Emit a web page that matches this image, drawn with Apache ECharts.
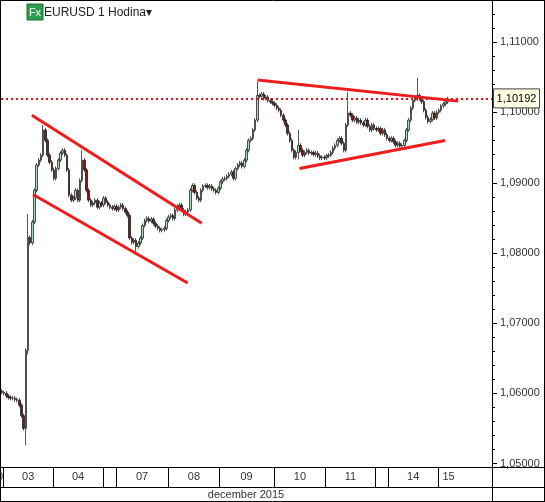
<!DOCTYPE html>
<html><head><meta charset="utf-8">
<script src="https://cdn.jsdelivr.net/npm/echarts@6/dist/echarts.min.js"></script>
<style>html,body{margin:0;padding:0;background:#fff}#c{width:545px;height:502px}</style>
</head><body><div id="c"></div>
<script>
// hourly closes, EURUSD 2-15 Dec 2015
const closes = [1.0601,1.0600,1.0596,1.0594,1.0593,1.0593,1.0591,1.0590,1.0583,1.0568,
1.0550,1.0661,1.0822,1.0814,1.0844,1.0889,1.0925,1.0932,1.0939,1.0975,
1.0960,1.0939,1.0929,1.0918,1.0906,1.0920,1.0932,1.0942,1.0946,1.0939,
1.0918,1.0882,1.0875,1.0878,1.0889,1.0875,1.0903,1.0932,1.0918,1.0889,
1.0875,1.0868,1.0871,1.0875,1.0865,1.0871,1.0868,1.0878,1.0872,1.0868,
1.0865,1.0863,1.0866,1.0861,1.0865,1.0868,1.0863,1.0858,1.0853,1.0821,
1.0815,1.0818,1.0809,1.0814,1.0821,1.0839,1.0846,1.0849,1.0845,1.0848,
1.0842,1.0838,1.0835,1.0832,1.0833,1.0835,1.0846,1.0851,1.0853,1.0849,
1.0861,1.0866,1.0868,1.0861,1.0855,1.0858,1.0861,1.0889,1.0896,1.0886,
1.0878,1.0875,1.0889,1.0895,1.0896,1.0893,1.0895,1.0891,1.0889,1.0886,
1.0892,1.0901,1.0905,1.0906,1.0909,1.0912,1.0915,1.0906,1.0920,1.0925,
1.0928,1.0923,1.0932,1.0946,1.0960,1.0963,1.0975,1.0989,1.1024,1.1023,
1.1026,1.1020,1.1022,1.1017,1.1015,1.1013,1.1010,1.1006,1.1003,1.0996,
1.0989,1.0982,1.0970,1.0960,1.0946,1.0936,1.0943,1.0953,1.0946,1.0939,
1.0943,1.0946,1.0942,1.0943,1.0940,1.0942,1.0938,1.0935,1.0936,1.0935,
1.0938,1.0939,1.0943,1.0949,1.0953,1.0960,1.0963,1.0956,1.0946,1.0982,
1.0999,1.0996,1.0989,1.0992,1.0986,1.0989,1.0985,1.0982,1.0989,1.0980,
1.0975,1.0982,1.0977,1.0975,1.0977,1.0970,1.0975,1.0968,1.0963,1.0960,
1.0963,1.0958,1.0953,1.0956,1.0952,1.0953,1.0960,1.0975,1.0989,1.1006,
1.1017,1.1022,1.1024,1.1020,1.1015,1.1003,1.0993,1.0987,1.0990,1.0999,
1.0992,1.1000,1.1003,1.1009,1.1012,1.1015,1.10192];
const firstOpen = 1.0603;
// notable wick extremes [index, high, low]
const spikes = [[11,1.0664,1.0526],[12,1.0855,1.0655],[19,1.0982,1.0940],[37,1.0946,1.0900],
[62,1.0821,1.0801],[118,1.1044,1.0987],[137,1.0975,1.0933],[160,1.1029,1.0980],[192,1.1049,1.1016],[186,1.0962,1.0950]];
const wick = 0.0003;
const slotCount = 227;
const lastPrice = 1.10192;
const yTicks = [1.05,1.06,1.07,1.08,1.09,1.10,1.11];
const yMinorTicks = [1.052,1.054,1.056,1.058,1.062,1.064,1.066,1.068,1.072,1.074,1.076,1.078,1.082,1.084,1.086,1.088,1.092,1.094,1.096,1.098,1.102,1.104,1.106,1.108,1.112,1.114];
const dayBounds = [1,24,47,53,77,101,126,150,173,179,202];
const dayLabels = ['03','04','','07','08','09','10','11','','14','15'];
const monthLabel = 'december 2015';
// trend lines in [index, price]
const trendLines = [
 [[13.8,1.0996],[92.3,1.0842]],
 [[14.3,1.0883],[85.8,1.0757]],
 [[118.1,1.1046],[210.9,1.1016]],
 [[137.5,1.0920],[204.8,1.0960]]
];

const cats = [];
for (let i=0;i<slotCount;i++) cats.push(String(i));
const ohlc = closes.map((c,i)=>{
  const o = i===0 ? firstOpen : closes[i-1];
  let h = Math.max(o,c)+wick, l = Math.min(o,c)-wick;
  const s = spikes.find(s=>s[0]===i);
  if (s){h=Math.max(h,s[1]); l=Math.min(l,s[2]);}
  return [o,c,l,h];
});
const fmt = v=>v.toFixed(5).replace('.',',');

const chart = echarts.init(document.getElementById('c'));
const font = 'Liberation Sans, Arial, sans-serif';
chart.setOption({
  animation:false,
  grid:{left:1,top:0,right:53,bottom:35,show:false},
  xAxis:[
    {type:'category',data:cats,boundaryGap:true,axisLine:{show:false},axisTick:{show:false},axisLabel:{show:false},splitLine:{show:false}},
    {type:'value',min:-0.5,max:slotCount-0.5,show:false}
  ],
  yAxis:{type:'value',position:'right',min:1.0495,max:1.116,
    axisLine:{show:false},
    axisTick:{show:false},
    axisLabel:{showMinLabel:false,showMaxLabel:false,margin:8,hideOverlap:false,color:'#333',fontFamily:font,fontSize:11,formatter:fmt},
    splitLine:{show:false}},
  series:[
    {type:'candlestick',data:ohlc,barWidth:2,
     itemStyle:{color:'#a8dcb4',color0:'#8b1212',borderColor:'#111',borderColor0:'#111',borderWidth:0.7}},
    {type:'line',xAxisIndex:1,data:[[-0.5,lastPrice],[slotCount-0.5,lastPrice]],symbol:'none',silent:true,
     lineStyle:{color:'#e01010',type:[2,3],width:2}},
    ...trendLines.map(t=>({type:'line',xAxisIndex:1,data:t,symbol:'none',
      lineStyle:{color:'#ee1c1c',width:3},silent:true}))
  ]
});

const px = i=>chart.convertToPixel({xAxisIndex:1,yAxisIndex:0},[i-0.5,1.08])[0];
const pyOf = v=>chart.convertToPixel({xAxisIndex:1,yAxisIndex:0},[0,v])[1];
const py = pyOf(lastPrice);
const g = [];
const yTop=467, yMid=487, yBot=501;
const L = (x1,y1,x2,y2)=>g.push({type:'line',silent:true,shape:{x1,y1,x2,y2},style:{stroke:'#000',lineWidth:1}});
L(0.5,0,0.5,yBot); L(0,0.5,545,0.5); L(544.5,0,544.5,yBot);
L(492.5,0,492.5,yBot); L(0,yTop+0.5,545,yTop+0.5); L(0,yMid+0.5,545,yMid+0.5); L(0,yBot+0.5,545,yBot+0.5);
yTicks.forEach(v=>{const y=Math.round(pyOf(v))+0.5; L(492,y,497,y);});
yMinorTicks.forEach(v=>{const y=Math.round(pyOf(v))+0.5; L(492,y,495,y);});
g.push({type:'text',x:-3,y:477,style:{text:'0',fill:'#333',font:'11px '+font,verticalAlign:'middle'}});
dayBounds.forEach((b,k)=>{
  const x = Math.round(px(b))+0.5;
  L(x,yTop,x,yMid);
  const nx = k+1<dayBounds.length ? px(dayBounds[k+1]) : 492;
  const lx = k+1<dayBounds.length ? (x+nx)/2 : x+10;
  if (dayLabels[k]) g.push({type:'text',x:lx,y:477,style:{text:dayLabels[k],fill:'#333',font:'11px '+font,align:'center',verticalAlign:'middle'}});
});
g.push({type:'text',x:246,y:494.5,style:{text:monthLabel,fill:'#333',font:'11px '+font,align:'center',verticalAlign:'middle'}});
g.push({type:'rect',shape:{x:27,y:4,width:16,height:16},style:{fill:'#2e9d4e',stroke:'#1f6e35'}});
g.push({type:'text',x:35,y:12.5,style:{text:'Fx',fill:'#fff',font:'11px '+font,align:'center',verticalAlign:'middle'}});
g.push({type:'text',x:44,y:12.5,style:{text:'EURUSD 1 Hodina▾',fill:'#222',font:'12px '+font,verticalAlign:'middle'}});
g.push({type:'rect',z:100,shape:{x:493.5,y:py-10,width:46,height:19},style:{fill:'#ffffe6',stroke:'#444',lineWidth:1}});
g.push({type:'text',z:101,x:516.5,y:py,style:{text:fmt(lastPrice),fill:'#000',font:'11px '+font,align:'center',verticalAlign:'middle'}});
chart.setOption({graphic:g});
</script></body></html>
